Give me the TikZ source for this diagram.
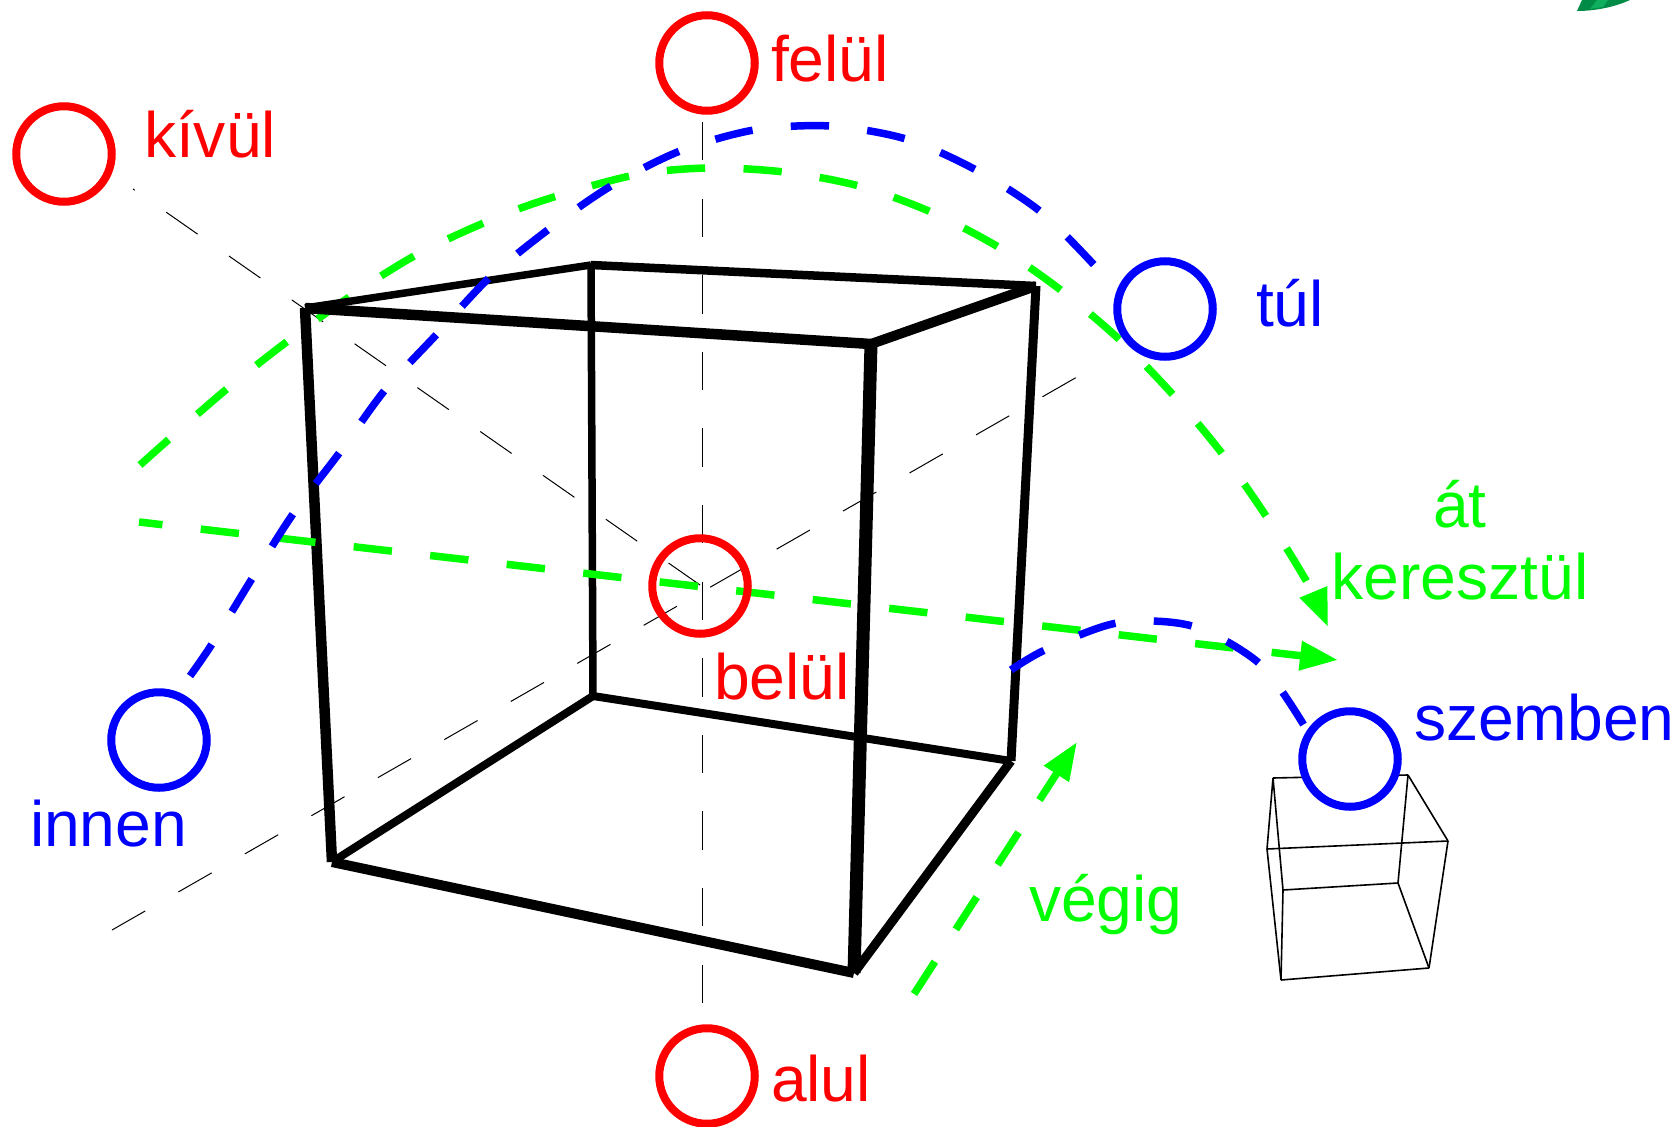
\documentclass[tikz,border=0pt]{standalone}
\usepackage{fontspec}
\setmainfont{Liberation Sans}
\usetikzlibrary{arrows.meta}
\definecolor{leafdark}{RGB}{0,140,70}
\definecolor{leaflight}{RGB}{15,175,95}

\begin{document}
\begin{tikzpicture}[x=1pt, y=-1pt,
    ring/.style={circle, draw, line width=8pt, minimum size=95.5pt, inner sep=0pt, outer sep=0pt},
    word/.style={anchor=base west, inner sep=0pt, outer sep=0pt, font=\fontsize{64.2}{70}\selectfont},
    axisline/.style={draw, black, line width=1pt, dash pattern=on 38.3pt off 38.3pt},
    route/.style={draw, line width=7.5pt, dash pattern=on 38.35pt off 38.35pt},
    straight/.style={draw, line width=7.5pt, dash pattern=on 38.5pt off 38.5pt},
    goal/.style={-{Triangle[length=38pt,width=28pt]}},
    tiny/.style={draw, line width=1.6pt}]
    \useasboundingbox (0,0) rectangle (1676,1127);
    % Place axis ends
    \coordinate (AT) at (702,122);
    \coordinate (AB) at (702,1004);
    \coordinate (AM) at (700,585);
    \coordinate (AO) at (133,189);
    \coordinate (AL) at (112,930);
    \coordinate (AR) at (1077,377);
    % Place big cube corners
    \coordinate (A) at (305,308);
    \coordinate (B) at (591,265);
    \coordinate (C) at (1036,286);
    \coordinate (D) at (871,344);
    \coordinate (E) at (332,862);
    \coordinate (F) at (593,696);
    \coordinate (G) at (1011,761);
    \coordinate (H) at (854,973);
    % Place small cube corners
    \coordinate (a) at (1273,778);
    \coordinate (b) at (1408,775);
    \coordinate (c) at (1448,841);
    \coordinate (d) at (1267,849);
    \coordinate (e) at (1283,890);
    \coordinate (f) at (1398,883);
    \coordinate (g) at (1281,980);
    \coordinate (h) at (1429,968);
    % Axes
    \path[axisline] (AT) -- (AB);
    \path[axisline] (AM) -- (AO);
    \path[axisline] (AL) -- (AR);
    % Green arc goes under the cube
    \path[route, green, goal] plot [smooth] coordinates {(140,465) (228,388) (319,318) (416,255) (521,208) (630,176) (707,168) (784,172) (859,186) (931,212) (1000,248) (1062,291) (1121,341) (1175,397) (1224,456) (1268,519) (1308,584) (1328,627)};
    % Big cube
    \path[draw, line width=7.5pt] (B) -- (F);
    \path[draw, line width=8pt] (F) -- (E);
    \path[draw, line width=8pt] (F) -- (G);
    \path[draw, line width=7.5pt] (A) -- (B);
    \path[draw, line width=8.5pt] (B) -- (C);
    \path[draw, line width=10pt] (C) -- (D);
    \path[draw, line width=10.5pt] (A) -- (D);
    \path[draw, line width=10.5pt] (A) -- (E);
    \path[draw, line width=9pt] (C) -- (G);
    \path[draw, line width=10pt] (E) -- (H);
    \path[draw, line width=9pt] (G) -- (H);
    \path[draw, line width=13pt] (D) -- (H);
    % Small cube
    \path[tiny] (a) -- (b);
    \path[tiny] (b) -- (c);
    \path[tiny] (c) -- (d);
    \path[tiny] (d) -- (a);
    \path[tiny] (a) -- (e);
    \path[tiny] (b) -- (f);
    \path[tiny] (e) -- (f);
    \path[tiny] (d) -- (g);
    \path[tiny] (e) -- (g);
    \path[tiny] (c) -- (h);
    \path[tiny] (f) -- (h);
    \path[tiny] (g) -- (h);
    % Green routes
    \coordinate (P) at (139,522);
    \coordinate (Q) at (1338,660);
    \coordinate (R) at (914,994);
    \coordinate (S) at (1077,742);
    \path[straight, green, goal, dash phase=14.9pt] (P) -- (Q);
    \path[straight, green, goal] (R) -- (S);
    % Blue routes
    \path[route, blue] plot [smooth] coordinates {(190,676) (212,644) (253,577) (293,514) (340,452) (385,390) (437,334) (489,278) (549,229) (611,186) (680,151) (754,130) (830,126) (906,139) (976,170) (1041,212) (1096,267)};
    \path[route, blue] plot [smooth] coordinates {(1011,670) (1045,650) (1117,623) (1192,626) (1260,664) (1305,727)};
    % Place circles
    \node [ring, red] (kivulring) at (64,154) {};
    \node [ring, red] (felulring) at (707,63) {};
    \node [ring, red] (belulring) at (700,586) {};
    \node [ring, red] (alulring) at (707,1076) {};
    \node [ring, blue] (tulring) at (1165,309) {};
    \node [ring, blue] (innenring) at (159,740) {};
    \node [ring, blue, fill=white] (szembenring) at (1350,759) {};
    % Place labels
    \node [word, red] (kivul) at (144,157) {kívül};
    \node [word, red] (felul) at (771,81) {felül};
    \node [word, red] (belul) at (714,699) {belül};
    \node [word, red] (alul) at (771,1101) {alul};
    \node [word, blue] (tul) at (1256,326) {túl};
    \node [word, blue] (innen) at (30,846) {innen};
    \node [word, blue] (szemben) at (1414,740) {szemben};
    \node [word, green, anchor=base] (at) at (1460,527) {át};
    \node [word, green, anchor=base] (keresztul) at (1460,599) {keresztül};
    \node [word, green] (vegig) at (1029,921) {végig};
    % Leaf in the corner
    \fill[leafdark] (1577,11) -- (1582,0) -- (1630,0) .. controls (1615,7) and (1595,11) .. (1577,11);
    \fill[leaflight] (1590,9) -- (1597,0) -- (1608,0) -- (1603,7) -- (1590,9);
\end{tikzpicture}
\end{document}
